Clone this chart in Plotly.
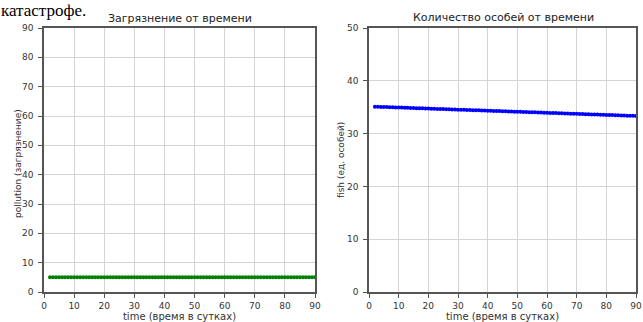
import plotly.graph_objects as go

time = list(range(2, 91))
pollution = [5.0] * len(time)
fish = [
    35.10, 35.08, 35.06, 35.04, 35.02, 35.00, 34.98, 34.96, 34.94, 34.92,
    34.90, 34.88, 34.86, 34.84, 34.82, 34.80, 34.78, 34.76, 34.74, 34.72,
    34.70, 34.68, 34.66, 34.64, 34.62, 34.60, 34.58, 34.56, 34.54, 34.52,
    34.50, 34.48, 34.46, 34.44, 34.42, 34.40, 34.38, 34.36, 34.34, 34.32,
    34.30, 34.28, 34.26, 34.24, 34.22, 34.20, 34.18, 34.16, 34.14, 34.12,
    34.10, 34.08, 34.06, 34.04, 34.02, 34.00, 33.98, 33.96, 33.94, 33.92,
    33.90, 33.88, 33.86, 33.84, 33.82, 33.80, 33.78, 33.76, 33.74, 33.72,
    33.70, 33.68, 33.66, 33.64, 33.62, 33.60, 33.58, 33.56, 33.54, 33.52,
    33.50, 33.48, 33.46, 33.44, 33.42, 33.40, 33.38, 33.36, 33.34,
]
x_ticks = [0, 10, 20, 30, 40, 50, 60, 70, 80, 90]
y1_ticks = [0, 10, 20, 30, 40, 50, 60, 70, 80, 90]
y2_ticks = [0, 10, 20, 30, 40, 50]

W, H = 643, 322
fig = go.Figure()
fig.add_trace(go.Scatter(x=time, y=pollution, mode="lines+markers",
                         line=dict(color="#008000", width=1.5),
                         marker=dict(color="#008000", size=4),
                         xaxis="x", yaxis="y", showlegend=False))
fig.add_trace(go.Scatter(x=time, y=fish, mode="lines+markers",
                         line=dict(color="#0000ff", width=1.5),
                         marker=dict(color="#0000ff", size=4),
                         xaxis="x2", yaxis="y2", showlegend=False))

tick_font = dict(family="DejaVu Sans", size=9, color="#333")
xt_font = dict(family="DejaVu Sans", size=10, color="#333")
yt_font = dict(family="DejaVu Sans", size=9, color="#333")
ax_common = dict(showgrid=True, gridcolor="#d4d4d4", gridwidth=1,
                 showline=True, linecolor="#555", linewidth=1.5, mirror=True,
                 ticks="outside", ticklen=4, tickcolor="#555",
                 tickfont=tick_font, zeroline=False, automargin=False)
ydom = [(H - 292) / H, (H - 28) / H]
fig.update_layout(
    width=W, height=H, margin=dict(l=0, r=0, t=0, b=0),
    paper_bgcolor="white", plot_bgcolor="white",
    xaxis=dict(domain=[44 / W, 315 / W], range=[0, 90], tickvals=x_ticks,
               title=dict(text="time (время в сутках)", font=xt_font, standoff=1), anchor="y", **ax_common),
    yaxis=dict(domain=ydom, range=[0, 90], tickvals=y1_ticks, ticklabelstandoff=3,
               anchor="x", **ax_common),
    xaxis2=dict(domain=[369 / W, 636 / W], range=[0, 90], tickvals=x_ticks,
                title=dict(text="time (время в сутках)", font=xt_font, standoff=1), anchor="y2", **ax_common),
    yaxis2=dict(domain=ydom, range=[0, 50], tickvals=y2_ticks, ticklabelstandoff=3,
                anchor="x2", **ax_common),
    annotations=[
        dict(text="Загрязнение от времени", x=180 / W, y=1 - 18 / H, xref="paper", yref="paper",
             showarrow=False, xanchor="center", yanchor="middle",
             font=dict(family="DejaVu Sans", size=11, color="#222")),
        dict(text="Количество особей от времени", x=503 / W, y=1 - 17 / H, xref="paper", yref="paper",
             showarrow=False, xanchor="center", yanchor="middle",
             font=dict(family="DejaVu Sans", size=11, color="#222")),
        dict(text="pollution (загрязнение)", x=18 / W, y=1 - 164 / H, xref="paper", yref="paper",
             showarrow=False, xanchor="center", yanchor="middle", textangle=-90,
             font=yt_font),
        dict(text="fish (ед. особей)", x=341 / W, y=1 - 160 / H, xref="paper", yref="paper",
             showarrow=False, xanchor="center", yanchor="middle", textangle=-90,
             font=yt_font),
        dict(text="катастрофе.", x=0, y=1, xref="paper", yref="paper",
             showarrow=False, xanchor="left", yanchor="top", borderpad=0,
             font=dict(family="Liberation Serif", size=17, color="#000")),
    ],
)
fig.write_html("out.html", config={"displayModeBar": False},
               post_script="document.body.style.margin='0';")
